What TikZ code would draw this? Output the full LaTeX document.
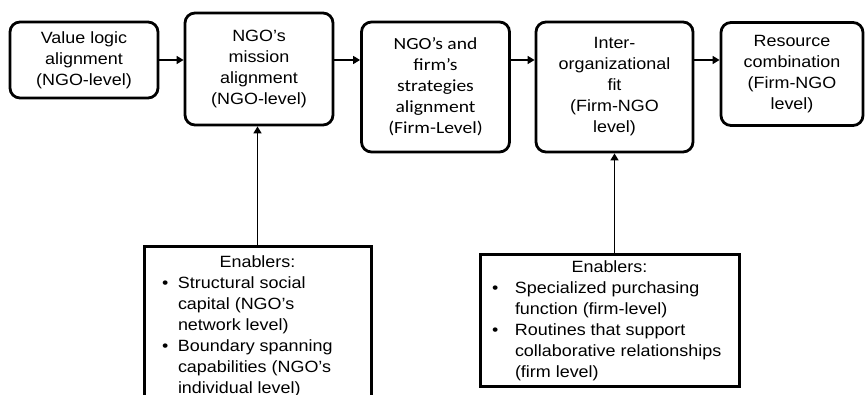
\documentclass[tikz,border=0pt]{standalone}
\usepackage{fontspec}
\setmainfont{Liberation Sans}[FakeStretch=1.1]
\newfontfamily\calibrifont{Carlito}[FakeStretch=1.15]
\usetikzlibrary{arrows.meta,positioning}

\begin{document}
\begin{tikzpicture}[x=1pt,y=-1pt,
  stage/.style={draw,line width=2.8pt,rounded corners=10pt,align=center,inner sep=0pt,font=\fontsize{16.3}{21}\selectfont},
  enabler/.style={draw,line width=3pt,anchor=north,inner xsep=0pt,font=\fontsize{16.3}{21}\selectfont},
  link/.style={line width=1.5pt,-{Triangle[length=7pt,width=8pt]}}]
\useasboundingbox (0,0) rectangle (865,395);
\clip (0,0) rectangle (865,395);
\node[stage,minimum width=148pt,minimum height=76pt] (value) at (84,60) {Value logic\\alignment\\(NGO-level)};
\node[stage,minimum width=148pt,minimum height=112pt] (mission) at (259,69) {NGO’s\\mission\\alignment\\(NGO-level)};
\node[stage,minimum width=148pt,minimum height=130pt,font=\calibrifont\fontsize{17}{21}\selectfont] (strategy) at (435.5,87) {NGO’s and\\firm’s\\strategies\\alignment\\(Firm-Level)};
\node[stage,minimum width=157pt,minimum height=130pt] (fit) at (614.5,87) {Inter-\\organizational\\fit\\(Firm-NGO\\level)};
\node[stage,minimum width=142pt,minimum height=103pt] (resource) at (792,74) {Resource\\combination\\(Firm-NGO\\level)};
\node[enabler,minimum width=227pt,inner ysep=6pt] (ngoen) at (257.5,245) {\begin{tabular}{@{}p{16pt}@{}p{175pt}@{}}
  \multicolumn{2}{c}{Enablers:}\\
  \textbullet & Structural social\\ & capital (NGO’s\\ & network level)\\
  \textbullet & Boundary spanning\\ & capabilities (NGO’s\\ & individual level)
\end{tabular}};
\node[enabler,minimum width=259pt,inner ysep=3pt] (firmen) at (609.5,253) {\begin{tabular}{@{}p{23pt}@{}p{212pt}@{}}
  \multicolumn{2}{c}{Enablers:}\\
  \textbullet & Specialized purchasing\\ & function (firm-level)\\
  \textbullet & Routines that support\\ & collaborative relationships\\ & (firm level)
\end{tabular}};
\draw[link] (value.east) -- (mission.west |- value.east);
\draw[link] (mission.east |- value.east) -- (strategy.west |- value.east);
\draw[link] (strategy.east |- value.east) -- (fit.west |- value.east);
\draw[link] (fit.east |- value.east) -- (resource.west |- value.east);
\draw[link] (ngoen.north) -- (ngoen.north |- mission.south);
\draw[link] (fit.south |- firmen.north) -- (fit.south);
\end{tikzpicture}
\end{document}
